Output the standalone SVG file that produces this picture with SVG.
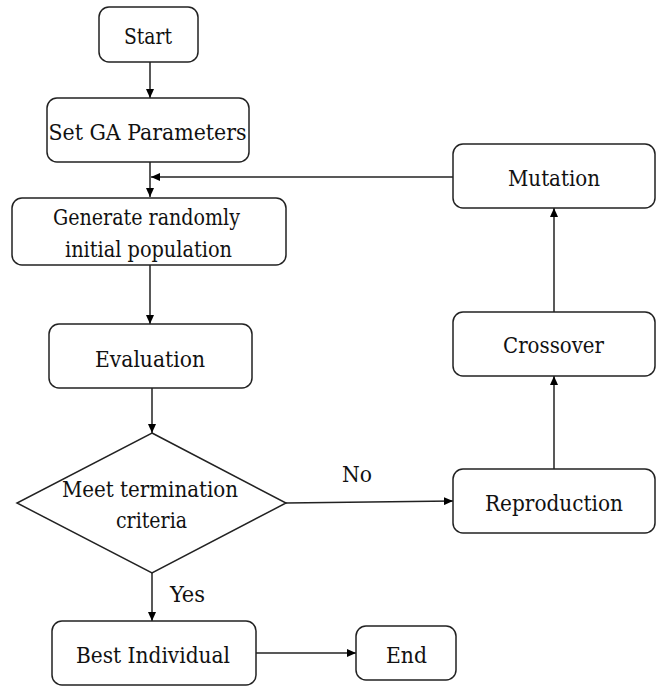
<svg xmlns="http://www.w3.org/2000/svg" width="658" height="686" viewBox="0 0 658 686">
<defs>
<marker id="ah" markerWidth="10" markerHeight="8" refX="9" refY="4" orient="auto" markerUnits="userSpaceOnUse">
<path d="M0,0 L9,4 L0,8 Z" fill="#000"/>
</marker>
<style>
.box{fill:#fff;stroke:#222;stroke-width:1.5}
.t{font-family:'DejaVu Serif Condensed','DejaVu Serif',serif;font-size:23px;fill:#111;text-anchor:middle}
.c{fill:none;stroke:#222;stroke-width:1.5;marker-end:url(#ah)}
.l{fill:none;stroke:#222;stroke-width:1.5}
</style>
</defs>
<rect width="658" height="686" fill="#fff"/>
<g id="connectors">
<path class="c" d="M150,62 V98"/>
<path class="l" d="M150,162 V177"/>
<path class="c" d="M150,177 V197"/>
<path class="c" d="M453,177 H151"/>
<path class="c" d="M150,265 V324"/>
<path class="c" d="M152,388 V433"/>
<path class="c" d="M286,503 L453,501"/>
<path class="c" d="M152,573 V621"/>
<path class="c" d="M256,653 H356"/>
<path class="c" d="M554,469 V376"/>
<path class="c" d="M554,312 V208"/>
</g>
<g id="start"><rect class="box" x="99" y="7" width="99" height="55" rx="10"/><text class="t" x="148" y="44" textLength="48" lengthAdjust="spacingAndGlyphs">Start</text></g>
<g id="setga"><rect class="box" x="47" y="98" width="202" height="64" rx="10"/><text class="t" x="147.5" y="140" textLength="198" lengthAdjust="spacingAndGlyphs">Set GA Parameters</text></g>
<g id="generate"><rect class="box" x="12" y="198" width="274" height="67" rx="10"/><text class="t" x="146.5" y="225" textLength="187" lengthAdjust="spacingAndGlyphs">Generate randomly</text><text class="t" x="148.5" y="257" textLength="167" lengthAdjust="spacingAndGlyphs">initial population</text></g>
<g id="evaluation"><rect class="box" x="49" y="324" width="203" height="64" rx="10"/><text class="t" x="150" y="367" textLength="110" lengthAdjust="spacingAndGlyphs">Evaluation</text></g>
<g id="decision"><polygon class="box" points="152,433 286,503 152,573 17,503"/><text class="t" x="150" y="497" textLength="176" lengthAdjust="spacingAndGlyphs">Meet termination</text><text class="t" x="151.5" y="528" textLength="71" lengthAdjust="spacingAndGlyphs">criteria</text></g>
<g id="best"><rect class="box" x="52" y="621" width="204" height="64" rx="10"/><text class="t" x="153" y="663" textLength="154" lengthAdjust="spacingAndGlyphs">Best Individual</text></g>
<g id="end"><rect class="box" x="356" y="626" width="100" height="54" rx="10"/><text class="t" x="406.5" y="663" textLength="41" lengthAdjust="spacingAndGlyphs">End</text></g>
<g id="mutation"><rect class="box" x="453" y="144" width="202" height="64" rx="10"/><text class="t" x="554" y="186" textLength="92" lengthAdjust="spacingAndGlyphs">Mutation</text></g>
<g id="crossover"><rect class="box" x="453" y="312" width="202" height="64" rx="10"/><text class="t" x="553.5" y="353" textLength="101" lengthAdjust="spacingAndGlyphs">Crossover</text></g>
<g id="reproduction"><rect class="box" x="453" y="469" width="202" height="64" rx="10"/><text class="t" x="554" y="511" textLength="138" lengthAdjust="spacingAndGlyphs">Reproduction</text></g>
<g id="labels"><text class="t" x="357" y="482" textLength="30" lengthAdjust="spacingAndGlyphs">No</text><text class="t" x="187.5" y="602" textLength="35" lengthAdjust="spacingAndGlyphs">Yes</text></g>
</svg>
